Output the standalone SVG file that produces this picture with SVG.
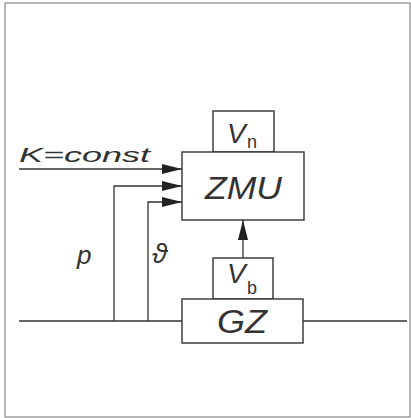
<svg xmlns="http://www.w3.org/2000/svg" width="411" height="418" viewBox="0 0 411 418">
<style>
.box{fill:#fff;stroke:#333;stroke-width:1.4}
.ln{fill:none;stroke:#333;stroke-width:1.3}
.t{font-family:"Liberation Sans",Arial,sans-serif;fill:#333;font-style:italic}
.s{font-family:"Liberation Sans",Arial,sans-serif;fill:#333}
</style>
<defs>
<marker id="ah" markerWidth="20" markerHeight="10" refX="20" refY="5" orient="auto" markerUnits="userSpaceOnUse">
<path d="M0,0 L20,5 L0,10 Z" fill="#222"/>
</marker>
</defs>
<rect x="0" y="0" width="411" height="418" fill="#fff"/>
<rect x="5" y="3" width="405" height="414" fill="none" stroke="#888" stroke-width="1.2"/>
<g id="connectors">
<line class="ln" x1="19" y1="321" x2="182" y2="321"/>
<line class="ln" x1="303" y1="321" x2="407" y2="321"/>
<line class="ln" x1="19" y1="169" x2="182" y2="169" marker-end="url(#ah)"/>
<polyline class="ln" points="114,321 114,186 182,186" marker-end="url(#ah)"/>
<polyline class="ln" points="148,321 148,202 182,202" marker-end="url(#ah)"/>
<line class="ln" x1="243" y1="258" x2="243" y2="220" marker-end="url(#ah)"/>
</g>
<g id="labels">
<text class="t" x="19" y="162" font-size="20" textLength="131" lengthAdjust="spacingAndGlyphs">K=const</text>
<text class="t" x="77" y="264" font-size="26">p</text>
<text class="t" x="152" y="263" font-size="28">ϑ</text>
</g>
<g id="Vn">
<rect class="box" x="213" y="111" width="61" height="41"/>
<text class="t" x="227" y="143" font-size="28">V</text>
<text class="s" x="247" y="148" font-size="18">n</text>
</g>
<g id="ZMU">
<rect class="box" x="182" y="152" width="122" height="68"/>
<text class="t" x="205" y="199" font-size="31" textLength="77" lengthAdjust="spacingAndGlyphs">ZMU</text>
</g>
<g id="Vb">
<rect class="box" x="213" y="258" width="60" height="41"/>
<text class="t" x="227" y="283" font-size="28">V</text>
<text class="s" x="247" y="294" font-size="18">b</text>
</g>
<g id="GZ">
<rect class="box" x="182" y="299" width="121" height="44"/>
<text class="t" x="217" y="333" font-size="33" textLength="50" lengthAdjust="spacingAndGlyphs">GZ</text>
</g>
</svg>
